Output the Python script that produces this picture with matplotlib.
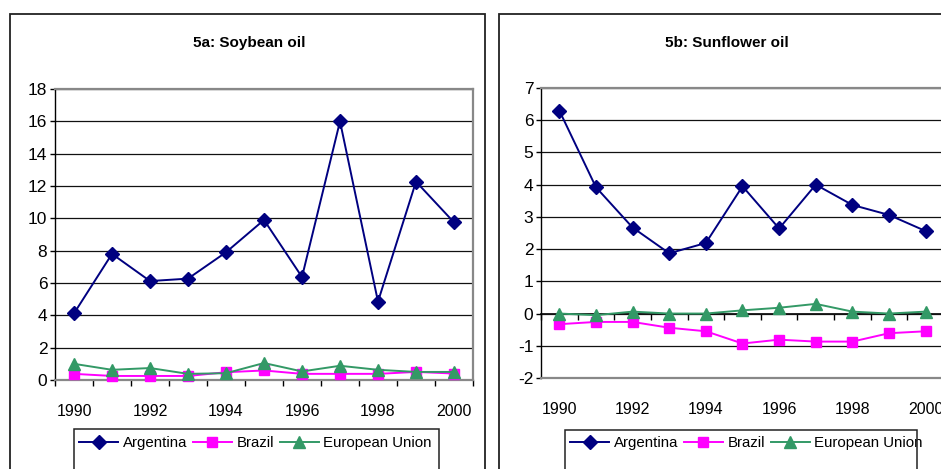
import numpy as np
import matplotlib
matplotlib.use("Agg")
import matplotlib.pyplot as plt
from matplotlib.patches import Rectangle
from matplotlib.lines import Line2D

plt.rcParams['font.family'] = ['Liberation Sans', 'DejaVu Sans']

years = [1990, 1991, 1992, 1993, 1994, 1995, 1996, 1997, 1998, 1999, 2000]
year_labels = ["1990", "1992", "1994", "1996", "1998", "2000"]

# 5a: Soybean oil
soy_argentina = [4.12, 7.8, 6.12, 6.27, 7.9, 9.9, 6.37, 16.0, 4.85, 12.27, 9.75]
soy_brazil = [0.38, 0.25, 0.25, 0.25, 0.48, 0.59, 0.38, 0.38, 0.38, 0.5, 0.4]
soy_eu = [1.0, 0.63, 0.74, 0.38, 0.42, 1.05, 0.53, 0.88, 0.63, 0.5, 0.5]

# 5b: Sunflower oil
sun_argentina = [6.3, 3.92, 2.67, 1.87, 2.19, 3.95, 2.64, 4.0, 3.37, 3.06, 2.56]
sun_brazil = [-0.33, -0.26, -0.26, -0.44, -0.55, -0.93, -0.81, -0.87, -0.87, -0.61, -0.55]
sun_eu = [0.0, -0.05, 0.06, 0.0, 0.0, 0.1, 0.18, 0.3, 0.06, 0.0, 0.06]

series_names = ["Argentina", "Brazil", "European Union"]
colors = ["#000080", "#FF00FF", "#339966"]
markers = ["D", "s", "^"]
msizes = [7, 7.5, 8]

W, H = 941, 469
fig = plt.figure(figsize=(W / 100, H / 100), dpi=100)
fig.patch.set_facecolor("white")


def fx(px):
    return px / W


def fy(py):
    return 1 - py / H


def panel(ax_box, data, ylim, ystep, title, title_xy, legend_xy, legend_box, panel_box):
    # outer chart frame
    x0, y0, x1, y1 = panel_box
    fig.patches.append(Rectangle((fx(x0), fy(y1)), fx(x1 - x0), (y1 - y0) / H,
                                 transform=fig.transFigure, facecolor="none",
                                 edgecolor="#222222", lw=1.3, clip_on=False, zorder=0))
    l, t, r, b = ax_box
    ax = fig.add_axes([fx(l), fy(b), fx(r - l), (b - t) / H])
    x = np.arange(len(years))
    for vals, name, c, m, ms in zip(data, series_names, colors, markers, msizes):
        ax.plot(x, vals, color=c, marker=m, markersize=ms, lw=1.4, label=name,
                markeredgecolor=c, clip_on=False, zorder=3)
    ax.set_xlim(-0.5, len(years) - 0.5)
    ax.set_ylim(*ylim)
    yt = np.arange(ylim[0], ylim[1] + 0.001, ystep)
    ax.set_yticks(yt)
    ax.set_yticklabels([f"{v:g}" for v in yt], fontsize=12.5)
    ax.tick_params(axis="y", length=3.5, width=1, direction="out", pad=2)
    ax.grid(axis="y", color="#111111", lw=0.9)
    ax.set_axisbelow(True)
    # category labels every second year
    ax.set_xticks(x[::2])
    ax.set_xticklabels(year_labels, fontsize=11.5)
    ax.tick_params(axis="x", length=0, pad=17)
    for s in ["top", "right", "bottom"]:
        ax.spines[s].set_color("#888888")
        ax.spines[s].set_linewidth(1.6)
    ax.spines["left"].set_color("black")
    ax.spines["left"].set_linewidth(1)
    # category axis crossing at zero with tick marks between categories
    sec = ax.secondary_xaxis(0, transform=ax.transData)
    sec.set_xticks(np.arange(-0.5, len(years), 1))
    sec.set_xticklabels([])
    sec.tick_params(length=4.5, width=1, direction="out", color="black")
    for s in sec.spines.values():
        s.set_color("black")
        s.set_linewidth(1.2)
    fig.text(fx(title_xy[0]), fy(title_xy[1]), title, ha="center", va="center",
             fontsize=11, fontweight="bold")
    # legend
    handles = [Line2D([], [], color=c, marker=m, markersize=ms, lw=1.4, markeredgecolor=c)
               for c, m, ms in zip(colors, markers, msizes)]
    ax.legend(handles, series_names, loc="center left", ncol=3, frameon=False,
              bbox_to_anchor=(fx(legend_xy[0]), fy(legend_xy[1])),
              bbox_transform=fig.transFigure, borderpad=0, borderaxespad=0,
              handlelength=2.6, handletextpad=0.3, columnspacing=0.4, fontsize=10.8)
    lx0, ly0, lx1, ly1 = legend_box
    fig.patches.append(Rectangle((fx(lx0), fy(ly1)), fx(lx1 - lx0), (ly1 - ly0) / H,
                                 transform=fig.transFigure, facecolor="none",
                                 edgecolor="#222222", lw=1.1, clip_on=False, zorder=0))
    return ax


panel((55, 89, 473, 380), [soy_argentina, soy_brazil, soy_eu], (0, 18), 2,
      "5a: Soybean oil", (249, 43), (79, 443), (74, 429, 439, 490), (10, 14, 485, 490))
panel((541, 88, 944, 378), [sun_argentina, sun_brazil, sun_eu], (-2, 7), 1,
      "5b: Sunflower oil", (727, 43), (570, 443), (565, 430, 917, 490), (499, 14, 960, 490))

fig.savefig("out.png", dpi=100, facecolor="white")
